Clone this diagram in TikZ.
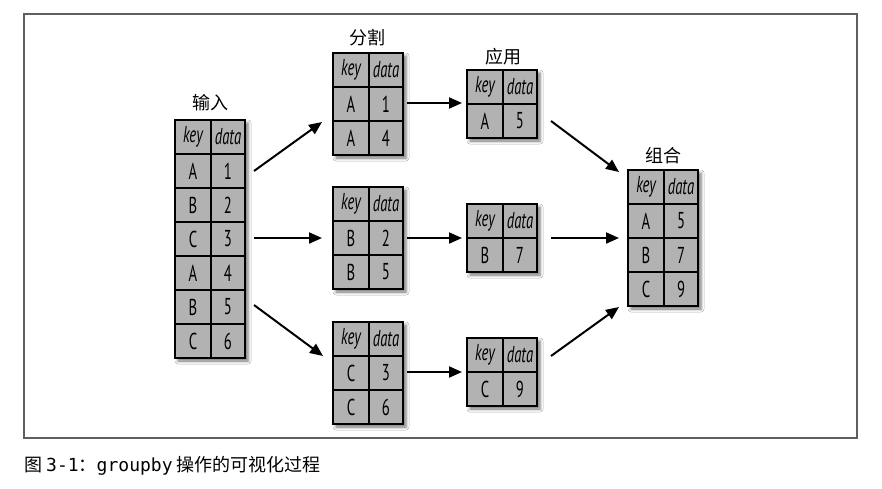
\documentclass[tikz,border=0pt]{standalone}
\usepackage{fontspec}
\usetikzlibrary{arrows.meta,shadows.blur}
\newfontfamily\cjkfont{Noto Sans CJK SC}
\newfontfamily\cellfont[FakeStretch=0.64]{PT Sans}
\newfontfamily\capmono{DejaVu Sans Mono}
\definecolor{cellgray}{RGB}{178,178,178}
\definecolor{framegray}{RGB}{95,95,95}

\tikzset{
  tablebox/.style={draw=black, line width=2.2pt, fill=cellgray, inner sep=0pt,
    outer sep=0pt, minimum width=70pt, anchor=north west,
    blur shadow={shadow xshift=3pt, shadow yshift=-3pt, shadow blur radius=3pt, shadow opacity=55}},
  gridline/.style={line width=2.2pt},
  celltext/.style={font=\cellfont\fontsize{23}{23}\selectfont, inner sep=0pt},
  headtext/.style={inner sep=0pt, font=\cellfont\itshape\fontsize{23}{23}\selectfont},
  title/.style={font=\cjkfont\fontsize{18}{18}\selectfont, inner sep=0pt},
  flow/.style={line width=2pt, -{Triangle[length=13pt,width=11pt]}},
}

% #1 name, #2 left, #3 top, #4 number of data rows, #5 key/value rows
\newcommand\datatable[5]{%
  \node[tablebox, minimum height={(#4+1)*34pt}] (#1) at (#2,#3) {};
  \draw[gridline] ([xshift=36pt]#1.north west) -- ([xshift=36pt]#1.south west);
  \foreach \j in {1,...,#4}
    \draw[gridline] ([yshift=-\j*34pt]#1.north west) -- ([yshift=-\j*34pt]#1.north east);
  \node[headtext] (#1-key) at ([shift={(18pt,-17pt)}]#1.north west) {key};
  \node[headtext] (#1-data) at ([shift={(53pt,-17pt)}]#1.north west) {data};
  \foreach \k/\v [count=\i] in {#5} {
    \node[celltext] (#1-k\i) at ([shift={(18pt,{-17pt-\i*34pt})}]#1.north west) {\k};
    \node[celltext] (#1-v\i) at ([shift={(53pt,{-17pt-\i*34pt})}]#1.north west) {\v};
  }
}

\begin{document}
\begin{tikzpicture}[x=1pt,y=-1pt]
  \fill[white] (0,0) rectangle (882,488);
  \useasboundingbox (0,0) rectangle (882,488);

  % figure frame
  \draw[framegray, line width=1.3pt] (24,14) rectangle (857,438);

  % tables
  \datatable{in}{175}{120}{6}{A/1,B/2,C/3,A/4,B/5,C/6}
  \datatable{sA}{333}{53}{2}{A/1,A/4}
  \datatable{sB}{333}{187}{2}{B/2,B/5}
  \datatable{sC}{333}{322}{2}{C/3,C/6}
  \datatable{aA}{467}{70}{1}{A/5}
  \datatable{aB}{467}{204}{1}{B/7}
  \datatable{aC}{467}{338}{1}{C/9}
  \datatable{cm}{628}{170}{3}{A/5,B/7,C/9}

  % stage titles
  \node[title] (tin) at (210,103) {输入};
  \node[title] (tsplit) at (367,38) {分割};
  \node[title] (tapply) at (503,57) {应用};
  \node[title] (tcomb) at (663,156) {组合};

  % split
  \draw[flow] ([shift={(9pt,-51pt)}]in.north east) -- ([shift={(-11pt,-69pt)}]sA.north west);
  \draw[flow] ([shift={(9pt,-118pt)}]in.north east) -- ([shift={(-11pt,-51pt)}]sB.north west);
  \draw[flow] ([shift={(9pt,-185pt)}]in.north east) -- ([shift={(-10pt,-34pt)}]sC.north west);
  % apply
  \draw[flow] ([shift={(4pt,-50pt)}]sA.north east) -- ([shift={(-5pt,-33pt)}]aA.north west);
  \draw[flow] ([shift={(4pt,-51pt)}]sB.north east) -- ([shift={(-5pt,-34pt)}]aB.north west);
  \draw[flow] ([shift={(4pt,-50pt)}]sC.north east) -- ([shift={(-5pt,-34pt)}]aC.north west);
  % combine
  \draw[flow] ([shift={(14pt,-51pt)}]aA.north east) -- ([shift={(-9pt,-2pt)}]cm.north west);
  \draw[flow] ([shift={(14pt,-34pt)}]aB.north east) -- ([shift={(-9pt,-68pt)}]cm.north west);
  \draw[flow] ([shift={(14pt,-18pt)}]aC.north east) -- ([shift={(-9pt,-137pt)}]cm.north west);

  % caption
  \node[anchor=west, inner sep=0pt, font=\fontsize{18}{18}\selectfont] (cap) at (24,466)
    {\cjkfont 图 \capmono 3-1\cjkfont ：\capmono groupby\cjkfont{} 操作的可视化过程};
\end{tikzpicture}
\end{document}
